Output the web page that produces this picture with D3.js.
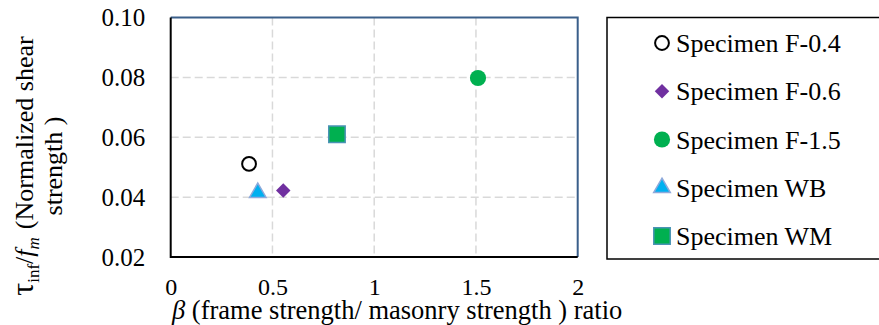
<!DOCTYPE html>
<html>
<head>
<meta charset="utf-8">
<script src="https://cdn.jsdelivr.net/npm/d3@7.9.0/dist/d3.min.js"></script>
</head>
<body style="margin:0; background:#fff">
<svg id="chart" width="879" height="325"></svg>
<script>
// data
const specimens = ['Specimen F-0.4', 'Specimen F-0.6', 'Specimen F-1.5', 'Specimen WB', 'Specimen WM'];
const betaValues = [0.385, 0.553, 1.51, 0.428, 0.817];
const shearValues = [0.0511, 0.0422, 0.0798, 0.0415, 0.061];
const xTicks = [0, 0.5, 1, 1.5, 2];
const yTicks = [0.02, 0.04, 0.06, 0.08, 0.10];

// marker styles per specimen
const markers = [
  { type: d3.symbolCircle, size: 150, fill: '#fff', stroke: '#000', sw: 2, rot: 0 },
  { type: d3.symbolSquare, size: 105, fill: '#7030A0', stroke: 'none', sw: 0, rot: 45 },
  { type: d3.symbolCircle, size: 205, fill: '#00B050', stroke: 'none', sw: 0, rot: 0 },
  { type: d3.symbolTriangle, size: 120, fill: '#00B0F0', stroke: '#8EA9DB', sw: 1.5, rot: 0 },
  { type: d3.symbolSquare, size: 270, fill: '#00B050', stroke: '#4A93B5', sw: 1.5, rot: 0 }
];

const FONT = '"Liberation Serif"';
const svg = d3.select('#chart');
const plotL = 170.7, plotR = 577.7, plotT = 17.5, plotB = 257;

const x = d3.scaleLinear().domain([0, 2]).range([plotL, plotR]);
const y = d3.scaleLinear().domain([0.02, 0.10]).range([plotB, plotT]);

// grid
svg.append('g')
  .selectAll('line')
  .data(xTicks.slice(1, -1))
  .join('line')
  .attr('x1', d => x(d)).attr('x2', d => x(d))
  .attr('y1', plotT).attr('y2', plotB)
  .attr('stroke', '#d9d9d9').attr('stroke-width', 1.5).attr('stroke-dasharray', '8,4');

svg.append('g')
  .selectAll('line')
  .data(yTicks.slice(1, -1))
  .join('line')
  .attr('x1', plotL).attr('x2', plotR)
  .attr('y1', d => y(d)).attr('y2', d => y(d))
  .attr('stroke', '#d9d9d9').attr('stroke-width', 1.5).attr('stroke-dasharray', '8,4');

// plot frame: top/right blue, left/bottom black
svg.append('path')
  .attr('d', `M${plotL},${plotT}H${plotR}V${plotB}`)
  .attr('fill', 'none').attr('stroke', '#3A5F8A').attr('stroke-width', 2);
svg.append('path')
  .attr('d', `M${plotL},${plotT}V${plotB}H${plotR}`)
  .attr('fill', 'none').attr('stroke', '#000').attr('stroke-width', 2);

// axes (labels only)
const xAxis = svg.append('g')
  .attr('transform', `translate(0,${plotB})`)
  .call(d3.axisBottom(x).tickValues(xTicks).tickFormat(d3.format('')).tickSize(0).tickPadding(21));
const yAxis = svg.append('g')
  .attr('transform', `translate(${plotL},0)`)
  .call(d3.axisLeft(y).tickValues(yTicks).tickFormat(d3.format('.2f')).tickSize(0).tickPadding(25.5));

[xAxis, yAxis].forEach(a => {
  a.select('.domain').remove();
  a.selectAll('text')
    .attr('font-size', 25)
    .attr('fill', '#000');
});
xAxis.selectAll('text').attr('font-size', 24);

// points
svg.append('g')
  .selectAll('path')
  .data(specimens)
  .join('path')
  .attr('d', (d, i) => d3.symbol().type(markers[i].type).size(markers[i].size)())
  .attr('transform', (d, i) => `translate(${x(betaValues[i])},${y(shearValues[i])}) rotate(${markers[i].rot})`)
  .attr('fill', (d, i) => markers[i].fill)
  .attr('stroke', (d, i) => markers[i].stroke)
  .attr('stroke-width', (d, i) => markers[i].sw);

// x title
const xt = svg.append('text')
  .attr('x', 172).attr('y', 319)
  .attr('font-size', 26.5);
xt.append('tspan').attr('font-style', 'italic').text('β');
xt.append('tspan').text(' (frame strength/ masonry strength ) ratio');

// y title (two lines, rotated)
const yt = svg.append('g').attr('transform', 'translate(0,166) rotate(-90)');
const l1 = yt.append('text')
  .attr('x', 0).attr('y', 33)
  .attr('text-anchor', 'middle')
  .attr('font-size', 26);
l1.append('tspan').attr('font-size', 32).text('τ');
l1.append('tspan').attr('font-size', 17).attr('dy', 6).text('inf');
l1.append('tspan').attr('dy', -6).text('/');
l1.append('tspan').attr('font-style', 'italic').text('f');
l1.append('tspan').attr('font-style', 'italic').attr('font-size', 17).attr('dy', 6).text('m');
l1.append('tspan').attr('dy', -6).attr('dx', 8).text('(Normalized shear');
yt.append('text')
  .attr('x', 0).attr('y', 62)
  .attr('text-anchor', 'middle')
  .attr('font-size', 26)
  .text('strength )');

// legend
const lg = svg.append('g');
lg.append('rect')
  .attr('x', 607).attr('y', 17.5).attr('width', 300).attr('height', 241.5)
  .attr('fill', '#fff').attr('stroke', '#000').attr('stroke-width', 1.5);

const rowY = d3.scaleLinear().domain([0, 4]).range([43, 236]);
const items = lg.selectAll('g.item')
  .data(specimens)
  .join('g')
  .attr('class', 'item')
  .attr('transform', (d, i) => `translate(0,${rowY(i)})`);

items.append('path')
  .attr('d', (d, i) => d3.symbol().type(markers[i].type).size(markers[i].size)())
  .attr('transform', (d, i) => `translate(662,0) rotate(${markers[i].rot})`)
  .attr('fill', (d, i) => markers[i].fill)
  .attr('stroke', (d, i) => markers[i].stroke)
  .attr('stroke-width', (d, i) => markers[i].sw);

items.append('text')
  .attr('x', 676).attr('y', 9)
  .attr('font-size', 26)
  .text(d => d);

// every text in Times-like serif
svg.selectAll('text').style('font-family', FONT);
</script>
</body>
</html>
